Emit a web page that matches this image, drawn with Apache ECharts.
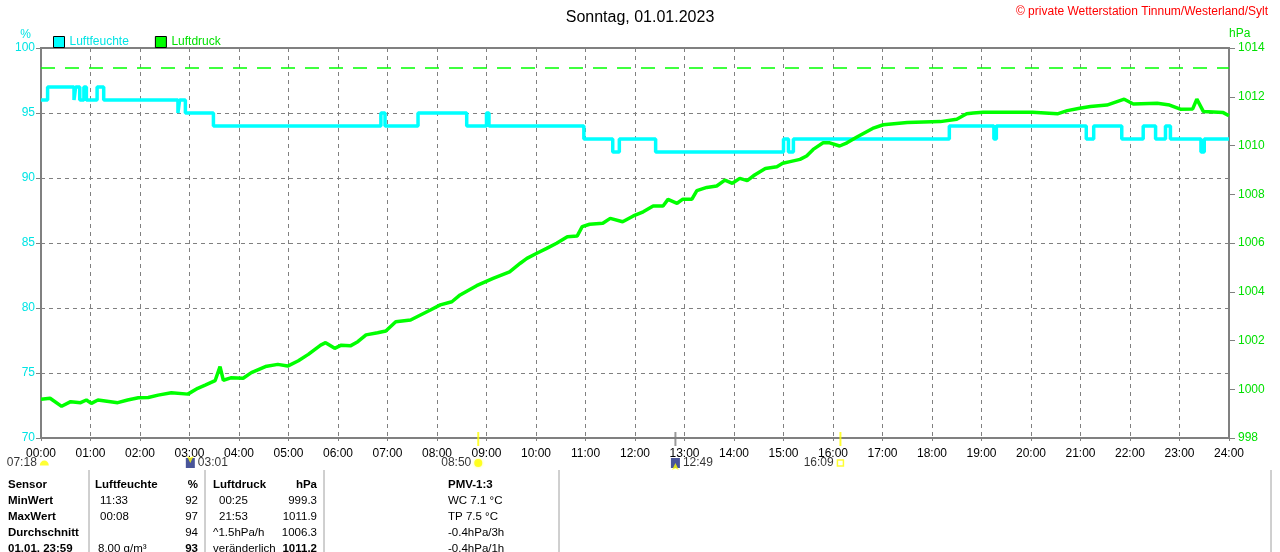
<!DOCTYPE html>
<html>
<head>
<meta charset="utf-8">
<title>Sonntag, 01.01.2023</title>
<script src="https://cdn.jsdelivr.net/npm/echarts@6.0.0/dist/echarts.min.js"></script>
<style>
  html, body { margin: 0; padding: 0; background: #fff; }
  #main { width: 1280px; height: 552px; }
</style>
</head>
<body>
<div id="main"></div>
<script>
// Luftfeuchte: Zeitpunkt (Minuten seit 00:00) und Wert ab diesem Zeitpunkt
var humMinutes = [0, 8, 40, 42, 47, 52, 55, 68, 76, 166, 168, 175, 209, 412, 417, 457, 516, 540, 543,
  658, 693, 701, 745, 900, 906, 912, 1101, 1155, 1158, 1267, 1276, 1310, 1336, 1351, 1363, 1369, 1406, 1410, 1440];
var humValues = [96, 97, 96, 97, 96, 97, 96, 97, 96, 95, 96, 95, 94, 95, 94, 95, 94, 95, 94,
  93, 92, 93, 92, 93, 92, 93, 94, 93, 94, 93, 94, 93, 94, 93, 94, 93, 92, 93, 93];

// Luftdruck (hPa)
var presMinutes = [0, 11, 25, 36, 48, 55, 61, 69, 93, 105, 118, 130, 142, 158, 178, 190, 199, 211, 217, 221,
  230, 245, 255, 272, 287, 299, 312, 324, 339, 345, 356, 364, 375, 384, 394, 408, 418, 430, 448, 472,
  484, 498, 508, 528, 548, 568, 581, 589, 601, 613, 625, 638, 650, 656, 665, 681, 690, 705, 718, 730,
  742, 754, 760, 771, 778, 789, 795, 807, 819, 829, 838, 847, 856, 865, 878, 892, 899, 908, 920, 928,
  936, 948, 956, 968, 977, 989, 1008, 1021, 1050, 1090, 1110, 1122, 1130, 1142, 1171, 1202, 1232, 1244,
  1259, 1272, 1292, 1313, 1324, 1353, 1368, 1381, 1396, 1401, 1409, 1433, 1440];
var presValues = [999.59, 999.63, 999.3, 999.49, 999.45, 999.56, 999.42, 999.56, 999.45, 999.56, 999.65, 999.66,
  999.76, 999.86, 999.8, 1000.04, 1000.17, 1000.35, 1000.93, 1000.37,
  1000.47, 1000.45, 1000.68, 1000.93, 1001.02, 1000.95, 1001.17, 1001.43, 1001.81, 1001.91, 1001.68, 1001.81,
  1001.78, 1001.95, 1002.23, 1002.32, 1002.39, 1002.77, 1002.84, 1003.25,
  1003.46, 1003.59, 1003.87, 1004.25, 1004.55, 1004.82, 1005.17, 1005.37, 1005.58, 1005.78, 1005.99, 1006.26,
  1006.29, 1006.67, 1006.77, 1006.81, 1007.01, 1006.87, 1007.11, 1007.28,
  1007.52, 1007.52, 1007.79, 1007.63, 1007.8, 1007.8, 1008.15, 1008.28, 1008.34, 1008.58, 1008.45, 1008.65,
  1008.56, 1008.79, 1009.06, 1009.13, 1009.27, 1009.34, 1009.43, 1009.57,
  1009.84, 1010.11, 1010.11, 1009.98, 1010.11, 1010.35, 1010.7, 1010.85, 1010.94, 1010.98, 1011.08, 1011.3,
  1011.33, 1011.36, 1011.36, 1011.36, 1011.3, 1011.43,
  1011.53, 1011.6, 1011.66, 1011.9, 1011.7, 1011.73, 1011.66, 1011.49, 1011.5, 1011.9, 1011.39, 1011.35, 1011.22];

var presRefLine = 1013.2;

// Sonne / Mond unter der Zeitachse
var eventMinutes = [4, 181, 530, 769, 969];
var eventLabels = ['07:18', '03:01', '08:50', '12:49', '16:09'];
var eventSides = ['left', 'right', 'left', 'right', 'left'];
var eventKinds = ['dawn', 'moondown', 'sun', 'moonup', 'dusk'];
var tickMinutes = [530, 769, 969];
var tickColors = ['#ffff00', '#808080', '#ffff00'];

// Tabelle
var tableHeader = ['Sensor', 'Luftfeuchte', '%', 'Luftdruck', 'hPa', 'PMV-1:3'];
var rowNames = ['MinWert', 'MaxWert', 'Durchschnitt', '01.01. 23:59'];
var humTimeCol = ['11:33', '00:08', '', '8.00 g/m³'];
var humValCol = ['92', '97', '94', '93'];
var presTimeCol = ['00:25', '21:53', '^1.5hPa/h', 'veränderlich'];
var presValCol = ['999.3', '1011.9', '1006.3', '1011.2'];
var pmvCol = ['WC 7.1 °C', 'TP 7.5 °C', '-0.4hPa/3h', '-0.4hPa/1h'];

var FONT = '"Liberation Sans", Arial, sans-serif';
var CYAN = '#00ffff';
var CYAN_TXT = '#00e4e4';
var GREEN = '#00ff00';
var GREEN_TXT = '#00e000';
var GRAY = '#808080';

function pad(n) { return (n < 10 ? '0' : '') + n; }

var humData = humMinutes.map(function (m, i) { return [m, humValues[i]]; });
var presData = presMinutes.map(function (m, i) { return [m, presValues[i]]; });

var eventData = [];
var arrowData = [];
eventMinutes.forEach(function (m, i) {
  var k = eventKinds[i];
  var item = { value: [m, 70], label: { formatter: eventLabels[i], position: eventSides[i] } };
  if (k === 'dawn') {
    item.symbol = 'path://M0,10 A10,10 0 0 1 20,10 Z';
    item.symbolSize = [9, 5];
    item.itemStyle = { color: '#ffff00' };
  } else if (k === 'moondown' || k === 'moonup') {
    item.symbol = 'rect';
    item.symbolSize = [9, 10];
    item.itemStyle = { color: '#1c2a80' };
    arrowData.push({ value: [m, 70], symbolRotate: k === 'moondown' ? 180 : 0 });
  } else if (k === 'sun') {
    item.symbol = 'circle';
    item.symbolSize = 8;
    item.itemStyle = { color: '#ffff00', shadowBlur: 3, shadowColor: '#ffff60' };
  } else {
    item.symbol = 'rect';
    item.symbolSize = 6;
    item.itemStyle = { color: '#ffffff', borderColor: '#ffff00', borderWidth: 1.5 };
  }
  eventData.push(item);
});
var tickData = tickMinutes.map(function (m, i) {
  return { value: [m, 70], itemStyle: { color: tickColors[i] } };
});

// Tabellen-Texte als graphic-Elemente
var graphics = [];
var rowY = [485, 501, 517, 533, 549];
function txt(x, y, s, bold, align) {
  graphics.push({
    type: 'text', x: x, y: y, silent: true,
    style: { text: s, fill: '#000', font: (bold ? 'bold ' : '') + '11.5px ' + FONT,
      textAlign: align || 'left', textVerticalAlign: 'middle' }
  });
}
txt(8, rowY[0], tableHeader[0], true);
txt(95, rowY[0], tableHeader[1], true);
txt(198, rowY[0], tableHeader[2], true, 'right');
txt(213, rowY[0], tableHeader[3], true);
txt(317, rowY[0], tableHeader[4], true, 'right');
txt(448, rowY[0], tableHeader[5], true);
rowNames.forEach(function (name, i) {
  var y = rowY[i + 1];
  var last = i === rowNames.length - 1;
  txt(8, y, name, true);
  txt(last ? 98 : 100, y, humTimeCol[i], false);
  txt(198, y, humValCol[i], last, 'right');
  txt(i >= 2 ? 213 : 219, y, presTimeCol[i], false);
  txt(317, y, presValCol[i], last, 'right');
  txt(448, y, pmvCol[i], false);
});
[89, 205, 324, 559, 1271].forEach(function (x) {
  graphics.push({ type: 'line', silent: true,
    shape: { x1: x, y1: 470, x2: x, y2: 552 },
    style: { stroke: '#a0a0a0', lineWidth: 1 } });
});
graphics.push({
  type: 'text', x: 1268, y: 12, silent: true,
  style: { text: '© private Wetterstation Tinnum/Westerland/Sylt', fill: '#ff0000',
    font: '12px ' + FONT, textAlign: 'right', textVerticalAlign: 'middle' }
});

var myChart = echarts.init(document.getElementById('main'));

var option = {
  animation: false,
  backgroundColor: '#ffffff',
  title: {
    text: 'Sonntag, 01.01.2023',
    left: 'center', top: 5,
    textStyle: { fontFamily: FONT, fontSize: 16, fontWeight: 'normal', color: '#000' }
  },
  legend: {
    left: 48, top: 31,
    icon: 'rect', itemWidth: 11, itemHeight: 11, itemGap: 26,
    textStyle: { fontFamily: FONT, fontSize: 12 },
    data: [
      { name: 'Luftfeuchte', itemStyle: { borderColor: '#000', borderWidth: 1 }, textStyle: { color: CYAN_TXT } },
      { name: 'Luftdruck', itemStyle: { borderColor: '#000', borderWidth: 1 }, textStyle: { color: GREEN_TXT } }
    ]
  },
  grid: {
    left: 41, right: 51, top: 48, bottom: 114,
    show: true, borderColor: GRAY, borderWidth: 2, backgroundColor: 'transparent'
  },
  xAxis: {
    type: 'value', min: 0, max: 1440, interval: 60,
    axisLine: { lineStyle: { color: GRAY, width: 2 } },
    axisTick: { length: 3, lineStyle: { color: GRAY } },
    axisLabel: {
      color: '#000', fontFamily: FONT, fontSize: 12, margin: 10,
      showMinLabel: true, showMaxLabel: true,
      formatter: function (v) { return pad(v / 60) + ':00'; }
    },
    splitLine: { show: true, lineStyle: { color: GRAY, type: [4, 4], width: 1 } }
  },
  yAxis: [
    {
      type: 'value', min: 70, max: 100, interval: 5, position: 'left',
      name: '%', nameLocation: 'end', nameGap: 7,
      nameTextStyle: { color: CYAN_TXT, fontFamily: FONT, fontSize: 12, align: 'right', padding: [0, 10, 0, 0] },
      axisLine: { show: true, lineStyle: { color: GRAY, width: 2 } },
      axisTick: { show: true, length: 5, lineStyle: { color: GRAY } },
      axisLabel: { color: CYAN_TXT, fontFamily: FONT, fontSize: 12, margin: 6,
        formatter: function (v) { return String(v); } },
      splitLine: { show: true, lineStyle: { color: GRAY, type: [4, 4], width: 1 } }
    },
    {
      type: 'value', min: 998, max: 1014, interval: 2, position: 'right',
      name: 'hPa', nameLocation: 'end', nameGap: 8,
      nameTextStyle: { color: GREEN_TXT, fontFamily: FONT, fontSize: 12, align: 'left' },
      axisLine: { show: true, lineStyle: { color: GRAY, width: 2 } },
      axisTick: { show: true, length: 6, lineStyle: { color: GRAY } },
      axisLabel: { color: GREEN_TXT, fontFamily: FONT, fontSize: 12, margin: 9,
        formatter: function (v) { return String(v); } },
      splitLine: { show: false }
    }
  ],
  series: [
    {
      name: 'Luftfeuchte', type: 'line', yAxisIndex: 0, step: 'end',
      data: humData, showSymbol: false, symbol: 'none',
      itemStyle: { color: CYAN },
      lineStyle: { color: CYAN, width: 3.5 },
      z: 3
    },
    {
      name: 'Luftdruck', type: 'line', yAxisIndex: 1,
      data: presData, showSymbol: false, symbol: 'none',
      itemStyle: { color: GREEN },
      lineStyle: { color: GREEN, width: 3.5 },
      markLine: {
        silent: true, symbol: 'none', label: { show: false },
        lineStyle: { color: GREEN, type: [14, 10], width: 1.5 },
        data: [{ yAxis: presRefLine }]
      },
      z: 4
    },
    {
      name: 'ticks', type: 'scatter', yAxisIndex: 0, clip: false,
      symbol: 'rect', symbolSize: [2, 14], symbolOffset: [0, 1],
      data: tickData, silent: true, z: 6
    },
    {
      name: 'events', type: 'scatter', yAxisIndex: 0, clip: false,
      symbolOffset: [0, 25],
      label: { show: true, color: '#000', fontFamily: FONT, fontSize: 12, distance: 3 },
      data: eventData, silent: true, z: 6
    },
    {
      name: 'moonArrows', type: 'scatter', yAxisIndex: 0, clip: false,
      symbol: 'arrow', symbolSize: [5, 7], symbolOffset: [0, 25],
      itemStyle: { color: '#ffff00' },
      data: arrowData, silent: true, z: 7
    }
  ],
  graphic: graphics
};

myChart.setOption(option);
</script>
</body>
</html>
